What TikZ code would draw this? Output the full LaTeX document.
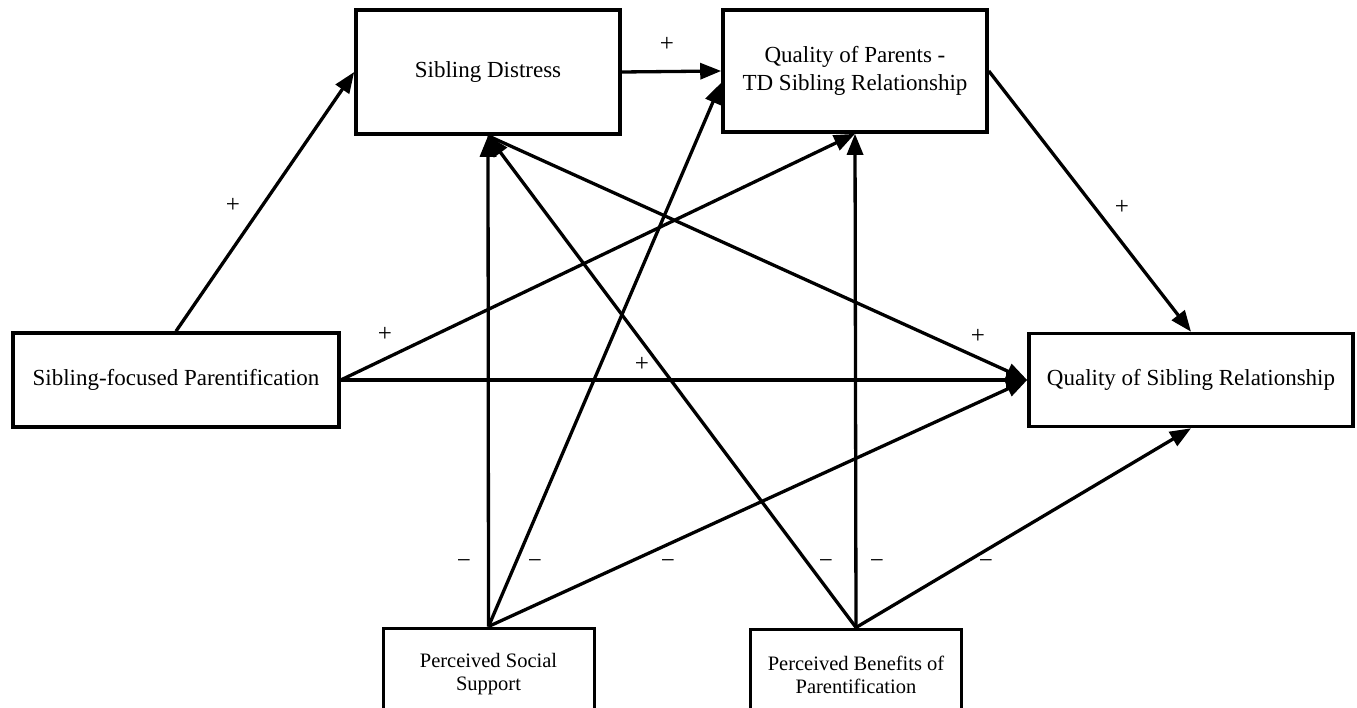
\documentclass[tikz,border=0pt]{standalone}
\usepackage{fontspec}
\setmainfont{Liberation Serif}
\usetikzlibrary{arrows.meta}

\tikzset{
  bigbox/.style={draw, line width=3.6pt, align=center, inner sep=0pt,
    font=\fontsize{23}{27.6}\selectfont},
  smallbox/.style={draw, line width=3pt, align=center, inner sep=0pt,
    minimum width=211pt, minimum height=92pt,
    font=\fontsize{20.5}{23}\selectfont},
  link/.style={->, line width=3.3pt},
  sign/.style={font=\fontsize{25}{27}\selectfont}
}

\begin{document}
\begin{tikzpicture}[x=1pt, y=-1pt, >={Triangle[length=21pt,width=16pt]}]
      \clip (0,0) rectangle (1357,708);

      % Main constructs
      \node[bigbox, minimum width=264pt, minimum height=124pt] (sd) at (488,72) {Sibling Distress};
      \node[bigbox, minimum width=264pt, minimum height=122pt] (qp) at (855,71) {Quality of Parents -\\TD Sibling Relationship};
      \node[bigbox, minimum width=326pt, minimum height=94pt] (sfp) at (176,380) {Sibling-focused Parentification};
      \node[bigbox, minimum width=324pt, minimum height=93pt] (qsr) at (1191,380) {Quality of Sibling Relationship};

      % Moderators (cut off at the bottom)
      \node[smallbox] (pss) at (488.5,674) {Perceived Social\\Support};
      \node[smallbox] (pbp) at (856,675) {Perceived Benefits of\\Parentification};

      % Paths from parentification
      \draw[link] (sfp.north) -- (sd.west);
      \draw[link] (sfp.east) -- (qp.south);
      \draw[link] (sfp.east) -- (qsr.west);

      % Mediators
      \draw[link] (sd.east) -- (qp.west);
      \draw[link] (sd.south) -- (qsr.west);
      \draw[link] (qp.east) -- (qsr.north);

      % Perceived social support
      \draw[link] (pss.north) -- (sd.south);
      \draw[link] (pss.north) -- (qp.185);
      \draw[link] (pss.north) -- (qsr.west);

      % Perceived benefits
      \draw[link] (pbp.north) -- (sd.south);
      \draw[link] (pbp.north) -- (qp.south);
      \draw[link] (pbp.north) -- (qsr.south);

      % Signs
      \node[sign] (p1) at (233,205) {+};
      \node[sign] (p2) at (667,44) {+};
      \node[sign] (p3) at (1122,207) {+};
      \node[sign] (p4) at (385,334) {+};
      \node[sign] (p5) at (642,364) {+};
      \node[sign] (p6) at (978,336) {+};
      \node[sign] (m1) at (464,564) {−};
      \node[sign] (m2) at (535,564) {−};
      \node[sign] (m3) at (668,564) {−};
      \node[sign] (m4) at (826,564) {−};
      \node[sign] (m5) at (877,564) {−};
      \node[sign] (m6) at (986,564) {−};

\end{tikzpicture}
\end{document}
